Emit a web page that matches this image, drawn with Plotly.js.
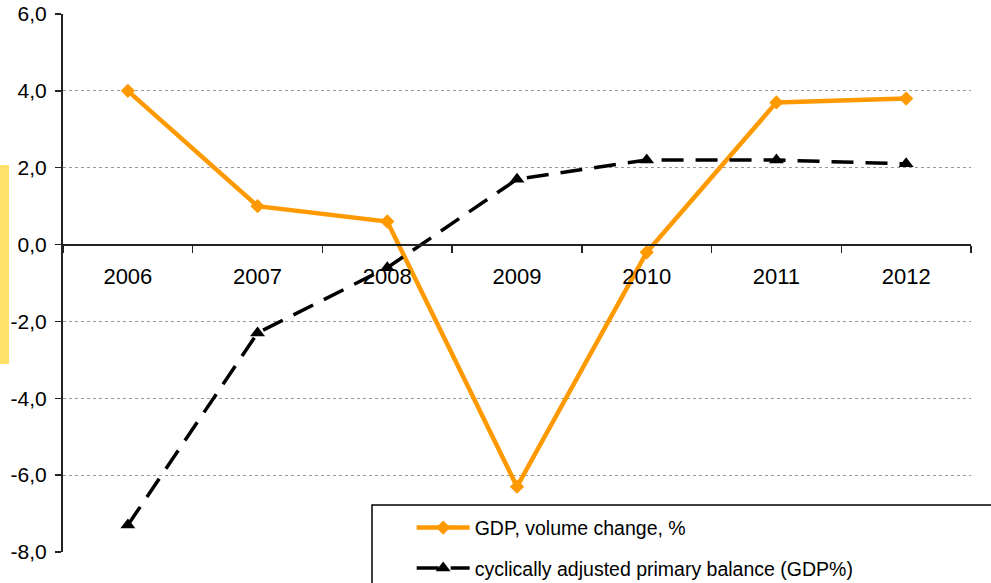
<!DOCTYPE html>
<html>
<head>
<meta charset="utf-8">
<script src="https://cdn.plot.ly/plotly-3.0.1.min.js"></script>
<style>
  html, body { margin: 0; padding: 0; background: #fff; }
  #chart { width: 991px; height: 583px; }
</style>
</head>
<body>
<div id="chart"></div>
<script>
// Years on the category axis
const years = ['2006', '2007', '2008', '2009', '2010', '2011', '2012'];

// GDP, volume change, %
const gdpChange = [4.0, 1.0, 0.6, -6.3, -0.2, 3.7, 3.8];

// Cyclically adjusted primary balance, % of GDP
const primaryBalance = [-7.3, -2.3, -0.6, 1.7, 2.2, 2.2, 2.1];

// Value axis ticks, printed with a decimal comma and a plain hyphen
const yTicks = [-8, -6, -4, -2, 0, 2, 4, 6];
const yTickText = yTicks.map(v => v.toFixed(1).replace('.', ','));

const family = 'Liberation Sans, Arial, sans-serif';
const xFont = { family: family, size: 22, color: '#000' };
const yFont = { family: family, size: 21, color: '#000' };
const legendFont = { family: family, size: 19.5, color: '#000' };

const traces = [
  {
    x: years,
    y: gdpChange,
    name: 'GDP, volume change, %',
    type: 'scatter',
    mode: 'lines+markers',
    line: { color: '#FF9900', width: 4.5 },
    marker: { symbol: 'diamond', size: 11, color: '#FF9900' },
    legendgroup: 'a'
  },
  {
    x: years,
    y: primaryBalance,
    name: 'cyclically adjusted primary balance (GDP%)',
    type: 'scatter',
    mode: 'lines+markers',
    line: { color: '#000', width: 3.5, dash: '22px,12px' },
    marker: { symbol: 'triangle-up', size: 13, color: '#000' },
    legendgroup: 'b'
  }
];

const layout = {
  width: 991,
  height: 583,
  margin: { l: 63, r: 20, t: 14, b: 31, autoexpand: false },
  paper_bgcolor: '#fff',
  plot_bgcolor: '#fff',
  font: yFont,
  showlegend: true,
  xaxis: {
    type: 'category',
    range: [-0.5, years.length - 0.5],
    anchor: 'free',
    position: 8 / 14,
    showline: true,
    linecolor: '#222',
    linewidth: 2,
    ticks: 'outside',
    tickson: 'boundaries',
    ticklen: 7,
    tickwidth: 1.5,
    tickcolor: '#222',
    showgrid: false,
    zeroline: false,
    ticklabelstandoff: 12,
    tickfont: xFont
  },
  yaxis: {
    range: [-8, 6],
    tickvals: yTicks,
    ticktext: yTickText,
    showline: true,
    linecolor: '#222',
    linewidth: 2,
    ticks: 'outside',
    ticklen: 6,
    tickwidth: 1.5,
    tickcolor: '#222',
    showgrid: true,
    gridcolor: '#999',
    griddash: 'dot',
    gridwidth: 1,
    zeroline: false,
    ticklabelstandoff: 4,
    tickfont: yFont
  },
  legend: {
    x: 0.384,
    y: 0.081,
    xanchor: 'left',
    yanchor: 'top',
    bgcolor: 'rgba(0,0,0,0)',
    borderwidth: 0,
    font: legendFont,
    itemwidth: 53,
    traceorder: 'grouped',
    tracegroupgap: 12
  },
  shapes: [
    // legend frame, running past the page edge
    {
      type: 'rect', xref: 'paper', yref: 'paper',
      x0: (372 - 63) / 908, x1: 1.1, y0: -0.2, y1: (552 - 505) / 538,
      line: { color: '#000', width: 1.5 }, fillcolor: 'rgba(0,0,0,0)',
      layer: 'above'
    },
    // yellow side strip
    {
      type: 'rect', xref: 'paper', yref: 'paper',
      x0: -63 / 908, x1: -54 / 908, y0: (552 - 364) / 538, y1: (552 - 165) / 538,
      line: { width: 0 }, fillcolor: '#FFE169'
    }
  ]
};

Plotly.newPlot('chart', traces, layout, { displayModeBar: false, staticPlot: true });
</script>
</body>
</html>
